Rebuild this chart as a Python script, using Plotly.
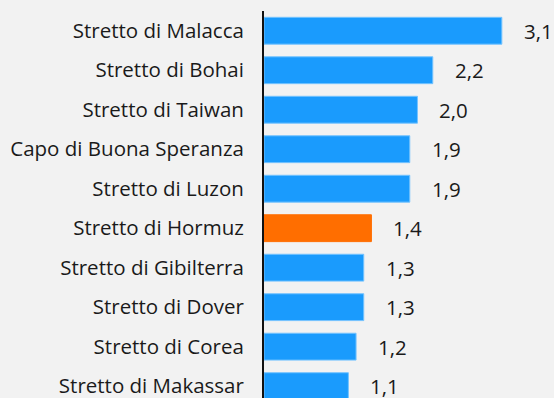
import plotly.graph_objects as go

# Stretti e passaggi marittimi (valori)
straits = [
    "Stretto di Malacca",
    "Stretto di Bohai",
    "Stretto di Taiwan",
    "Capo di Buona Speranza",
    "Stretto di Luzon",
    "Stretto di Hormuz",
    "Stretto di Gibilterra",
    "Stretto di Dover",
    "Stretto di Corea",
    "Stretto di Makassar",
]
values = [3.1, 2.2, 2.0, 1.9, 1.9, 1.4, 1.3, 1.3, 1.2, 1.1]
highlight = "Stretto di Hormuz"

BLUE = "#1A9BFD"
ORANGE = "#FF6E00"
FONT = "Open Sans"
SIZE = 20.5

colors = [ORANGE if s == highlight else BLUE for s in straits]
edge = [ORANGE if s == highlight else "#74C3FF" for s in straits]

fig = go.Figure(
    go.Bar(
        x=values,
        y=straits,
        orientation="h",
        marker=dict(color=colors, line=dict(color=edge, width=1)),
        width=0.68,
        hoverinfo="skip",
    )
)

for s, v in zip(straits, values):
    fig.add_annotation(
        x=v,
        y=s,
        text=f"{v:.1f}".replace(".", ","),
        showarrow=False,
        xanchor="left",
        yanchor="middle",
        xshift=20,
        font=dict(family=FONT, size=SIZE, color="#1a1a1a"),
    )

fig.update_layout(
    width=554,
    height=398,
    margin=dict(l=264, r=0, t=11, b=0),
    paper_bgcolor="#F2F2F2",
    plot_bgcolor="#F2F2F2",
    showlegend=False,
    font=dict(family=FONT, size=SIZE, color="#1a1a1a"),
)
fig.update_xaxes(range=[0, 3.78], visible=False, fixedrange=True)
fig.update_yaxes(
    categoryorder="array",
    categoryarray=straits,
    range=[9.3, -0.5],
    showline=True,
    linecolor="#111111",
    linewidth=2,
    ticks="",
    ticklabelstandoff=14,
    showgrid=False,
    zeroline=False,
    fixedrange=True,
    tickfont=dict(family=FONT, size=SIZE, color="#1a1a1a"),
)

fig.write_html("out.html", config={"displayModeBar": False})
